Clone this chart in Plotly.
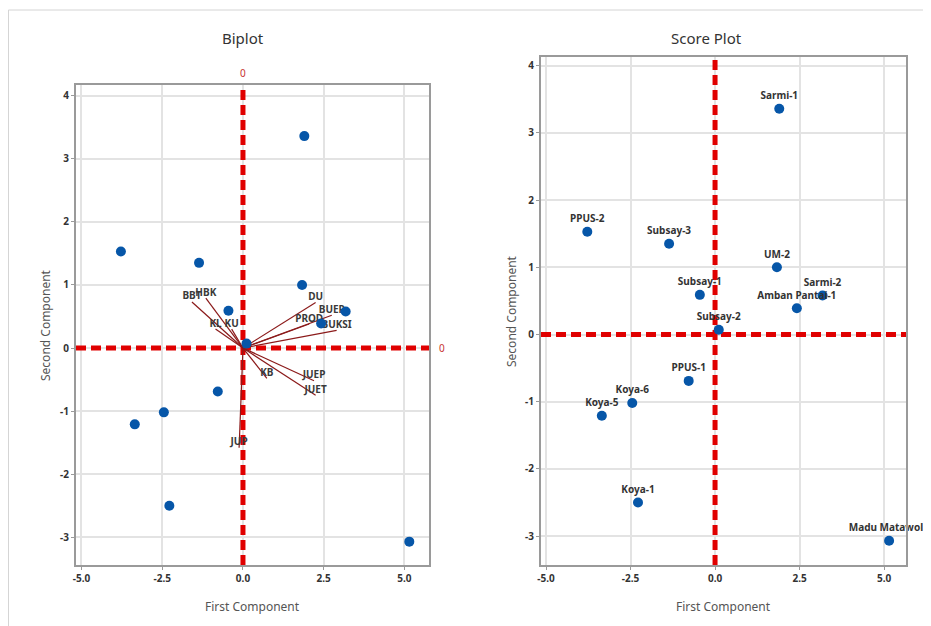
import plotly.graph_objects as go

# ---- data ----
obs_names = ["Sarmi-1", "PPUS-2", "Subsay-3", "UM-2", "Subsay-1", "Sarmi-2",
             "Amban Pantai-1", "Subsay-2", "PPUS-1", "Koya-6", "Koya-5",
             "Koya-1", "Madu Matawolo"]
pc1 = [1.90, -3.78, -1.36, 1.83, -0.45, 3.18, 2.42, 0.11, -0.78, -2.45, -3.35, -2.28, 5.15]
pc2 = [3.36, 1.53, 1.35, 1.00, 0.59, 0.58, 0.39, 0.07, -0.69, -1.02, -1.21, -2.50, -3.07]

var_names = ["BBT", "HBK", "KL", "KU", "DU", "BUEP", "PROD", "BUKSI",
             "KB", "JUEP", "JUET", "JUP"]
load1 = [-1.58, -1.15, -0.85, -0.35, 2.25, 2.75, 2.05, 2.90, 0.74, 2.20, 2.25, -0.12]
load2 = [0.73, 0.79, 0.30, 0.30, 0.72, 0.52, 0.38, 0.28, -0.48, -0.52, -0.75, -1.58]

x_ticks = [-5.0, -2.5, 0.0, 2.5, 5.0]
x_ticktext = ["-5.0", "-2.5", "0.0", "2.5", "5.0"]
y_ticks = [-3, -2, -1, 0, 1, 2, 3, 4]
y_ticktext = ["-3", "-2", "-1", "0", "1", "2", "3", "4"]
ref_value = 0

bi_xrange = [-5.17, 5.76]
bi_yrange = [-3.44, 4.17]
sc_xrange = [-5.15, 5.65]
sc_yrange = [-3.43, 4.13]

# ---- figure ----
OFF = 8  # page body margin
W, H = 931 - OFF, 626 - OFF
FONT = "Noto Sans"
RED = "#e00000"
BLUE = "#0656a8"
VEC = "#8b1a1a"

fig = go.Figure()

def px_x(p):
    return (p - OFF) / W

def px_y(p):
    return 1 - (p - OFF) / H

# reference dashed lines (biplot: x/y ; score: x2/y2)
for xa, ya, xr, yr in [("x", "y", bi_xrange, bi_yrange), ("x2", "y2", sc_xrange, sc_yrange)]:
    fig.add_trace(go.Scatter(x=[ref_value, ref_value], y=yr, mode="lines",
                             line=dict(color=RED, width=5, dash="10px,5px"),
                             xaxis=xa, yaxis=ya, hoverinfo="skip", showlegend=False))
    fig.add_trace(go.Scatter(x=xr, y=[ref_value, ref_value], mode="lines",
                             line=dict(color=RED, width=5, dash="10px,5px"),
                             xaxis=xa, yaxis=ya, hoverinfo="skip", showlegend=False))

# biplot loading vectors
vx, vy = [], []
for a, b in zip(load1, load2):
    vx += [0, a, None]
    vy += [0, b, None]
fig.add_trace(go.Scatter(x=vx, y=vy, mode="lines", line=dict(color=VEC, width=1.2),
                         xaxis="x", yaxis="y", showlegend=False, hoverinfo="skip"))
fig.add_trace(go.Scatter(x=load1, y=load2, mode="text", text=var_names,
                         textposition="top center",
                         textfont=dict(family=FONT, size=10, color="#3a3a3a", weight="bold"),
                         xaxis="x", yaxis="y", showlegend=False, cliponaxis=False))
# biplot scores
fig.add_trace(go.Scatter(x=pc1, y=pc2, mode="markers",
                         marker=dict(color=BLUE, size=10),
                         xaxis="x", yaxis="y", showlegend=False))
# score plot
fig.add_trace(go.Scatter(x=pc1, y=pc2, mode="markers+text", text=obs_names,
                         textposition="top center",
                         textfont=dict(family=FONT, size=10, color="#333333", weight="bold"),
                         marker=dict(color=BLUE, size=10),
                         xaxis="x2", yaxis="y2", showlegend=False, cliponaxis=False))

axis_common = dict(showgrid=True, gridcolor="#e3e3e3", gridwidth=1.5, zeroline=False,
                   showline=True, linecolor="#9a9a9a", linewidth=2, mirror=True,
                   ticks="outside", ticklen=3, tickcolor="#9a9a9a",
                   tickfont=dict(family=FONT, size=10, color="#333333", weight="bold"),
                   automargin=False)

fig.update_layout(
    width=W, height=H,
    margin=dict(l=0, r=0, t=0, b=0),
    paper_bgcolor="white", plot_bgcolor="white",
    showlegend=False,
    xaxis=dict(domain=[px_x(76), px_x(429)], range=bi_xrange, tickvals=x_ticks,
               ticktext=x_ticktext, anchor="y", **axis_common),
    yaxis=dict(domain=[px_y(565), px_y(85)], range=bi_yrange, tickvals=y_ticks,
               ticktext=y_ticktext, anchor="x", **axis_common),
    xaxis2=dict(domain=[px_x(541), px_x(906)], range=sc_xrange, tickvals=x_ticks,
                ticktext=x_ticktext, anchor="y2", **axis_common),
    yaxis2=dict(domain=[px_y(565), px_y(57)], range=sc_yrange, tickvals=y_ticks,
                ticktext=y_ticktext, anchor="x2", **axis_common),
)

ann_title = dict(family=FONT, size=15, color="#333333")
ann_axis = dict(family=FONT, size=12, color="#555555")
C = dict(xref="paper", yref="paper", showarrow=False, xanchor="center", yanchor="middle")
annotations = [
    dict(text="Biplot", x=px_x(243), y=px_y(38), font=ann_title, **C),
    dict(text="Score Plot", x=px_x(706), y=px_y(38), font=ann_title, **C),
    dict(text="First Component", x=px_x(252), y=px_y(606), font=ann_axis, **C),
    dict(text="First Component", x=px_x(723), y=px_y(606), font=ann_axis, **C),
    dict(text="Second Component", x=px_x(45), y=px_y(325), font=ann_axis, textangle=-90, **C),
    dict(text="Second Component", x=px_x(511), y=px_y(311), font=ann_axis, textangle=-90, **C),
    dict(text=str(ref_value), x=ref_value, y=1, xref="x", yref="y domain", yanchor="bottom",
         xanchor="center", yshift=3, showarrow=False,
         font=dict(family=FONT, size=10, color="#c83232")),
    dict(text=str(ref_value), x=1, y=ref_value, xref="x domain", yref="y", xanchor="left",
         yanchor="middle", xshift=8, showarrow=False,
         font=dict(family=FONT, size=10, color="#c83232")),
]
fig.update_layout(annotations=annotations)

# light outer frame of the picture (top and left edges only)
fig.add_shape(type="line", xref="paper", yref="paper",
              x0=px_x(8) + 0.0005, x1=1.0, y0=px_y(10), y1=px_y(10),
              line=dict(color="#d4d4d4", width=1))
fig.add_shape(type="line", xref="paper", yref="paper",
              x0=px_x(8) + 0.0005, x1=px_x(8) + 0.0005, y0=0, y1=px_y(10),
              line=dict(color="#d4d4d4", width=1))

fig.write_html("out.html")
